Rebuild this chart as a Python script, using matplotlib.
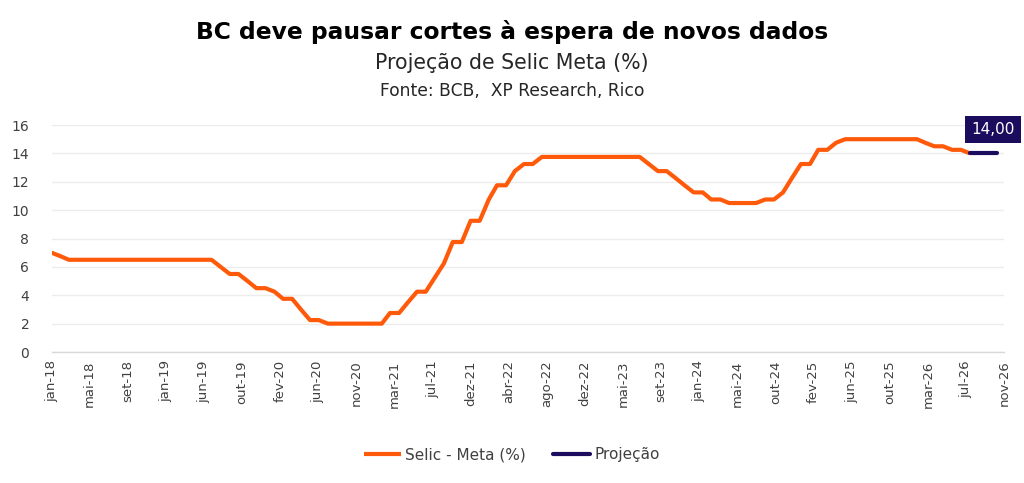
import numpy as np
import pandas as pd
import matplotlib
matplotlib.use("Agg")
import matplotlib.pyplot as plt

plt.rcParams['font.family'] = ['DejaVu Sans']

# Selic meta, monthly (end of month), jan-18 .. ago-26
selic = [
    7.00, 6.75, 6.50, 6.50, 6.50, 6.50, 6.50, 6.50, 6.50, 6.50, 6.50, 6.50,        # 2018
    6.50, 6.50, 6.50, 6.50, 6.50, 6.50, 6.50, 6.00, 5.50, 5.50, 5.00, 4.50,        # 2019
    4.50, 4.25, 3.75, 3.75, 3.00, 2.25, 2.25, 2.00, 2.00, 2.00, 2.00, 2.00,        # 2020
    2.00, 2.00, 2.75, 2.75, 3.50, 4.25, 4.25, 5.25, 6.25, 7.75, 7.75, 9.25,        # 2021
    9.25, 10.75, 11.75, 11.75, 12.75, 13.25, 13.25, 13.75, 13.75, 13.75, 13.75, 13.75,  # 2022
    13.75, 13.75, 13.75, 13.75, 13.75, 13.75, 13.75, 13.25, 12.75, 12.75, 12.25, 11.75,  # 2023
    11.25, 11.25, 10.75, 10.75, 10.50, 10.50, 10.50, 10.50, 10.75, 10.75, 11.25, 12.25,  # 2024
    13.25, 13.25, 14.25, 14.25, 14.75, 15.00, 15.00, 15.00, 15.00, 15.00, 15.00, 15.00,  # 2025
    15.00, 15.00, 14.75, 14.50, 14.50, 14.25, 14.25, 14.00,                          # 2026
]
# projection, ago-26 .. nov-26
projecao = [14.00, 14.00, 14.00, 14.00]

tick_labels = ['jan-18', 'mai-18', 'set-18', 'jan-19', 'jun-19', 'out-19', 'fev-20',
               'jun-20', 'nov-20', 'mar-21', 'jul-21', 'dez-21', 'abr-22', 'ago-22',
               'dez-22', 'mai-23', 'set-23', 'jan-24', 'mai-24', 'out-24', 'fev-25',
               'jun-25', 'out-25', 'mar-26', 'jul-26', 'nov-26']

dates_selic = pd.date_range('2018-01-01', periods=len(selic), freq='MS')
dates_proj = pd.date_range(dates_selic[-1], periods=len(projecao), freq='MS')

# date axis: one label every 130 days, as in the original sheet
start = pd.Timestamp('2018-01-01')
ticks = [start + pd.Timedelta(days=130 * k) for k in range(len(tick_labels))]

orange = '#FF5A0A'
navy = '#1C0C5E'

fig = plt.figure(figsize=(10.24, 4.83), dpi=100)
ax = fig.add_axes([0.0503, 0.2712, 0.9302, 0.4700])

ax.plot(dates_selic, selic, color=orange, lw=3, solid_capstyle='butt',
        solid_joinstyle='round', label='Selic - Meta (%)', zorder=3)
ax.plot(dates_proj, projecao, color=navy, lw=3, solid_capstyle='round',
        label='Projeção', zorder=4)

ax.set_xlim(ticks[0], ticks[-1])
ax.set_ylim(0, 16)
ax.set_yticks(np.arange(0, 17, 2))
ax.set_xticks(ticks)
ax.set_xticklabels(tick_labels, rotation=90)
ax.tick_params(axis='both', length=0, labelsize=10, labelcolor='#404040')
ax.tick_params(axis='x', labelsize=9.5, pad=6)
ax.tick_params(axis='y', pad=16)

ax.grid(axis='y', color='#ECECEC', lw=1)
ax.set_axisbelow(True)
for s in ['top', 'right', 'left']:
    ax.spines[s].set_visible(False)
ax.spines['bottom'].set_color('#D9D9D9')
ax.spines['bottom'].set_linewidth(1)

ax.annotate('14,00', xy=(dates_proj[-1], projecao[-1]), xytext=(-3, 17),
            textcoords='offset points', ha='center', va='center',
            fontsize=11, color='white',
            bbox=dict(boxstyle='square,pad=0.4', fc=navy, ec='none'),
            annotation_clip=False)

fig.text(0.5, 0.934, 'BC deve pausar cortes à espera de novos dados',
         ha='center', va='center', fontsize=16.8, fontweight='bold', color='black')
fig.text(0.5, 0.870, 'Projeção de Selic Meta (%)', ha='center', va='center',
         fontsize=14.8, color='#262626')
fig.text(0.5, 0.812, 'Fonte: BCB,  XP Research, Rico', ha='center', va='center',
         fontsize=12.3, color='#262626')

fig.legend(loc='center', bbox_to_anchor=(0.5, 0.058), ncol=2, frameon=False,
           fontsize=11, handlelength=2.4, columnspacing=1.8, handletextpad=0.3,
           labelcolor='#404040')

fig.savefig('out.png', dpi=100)
